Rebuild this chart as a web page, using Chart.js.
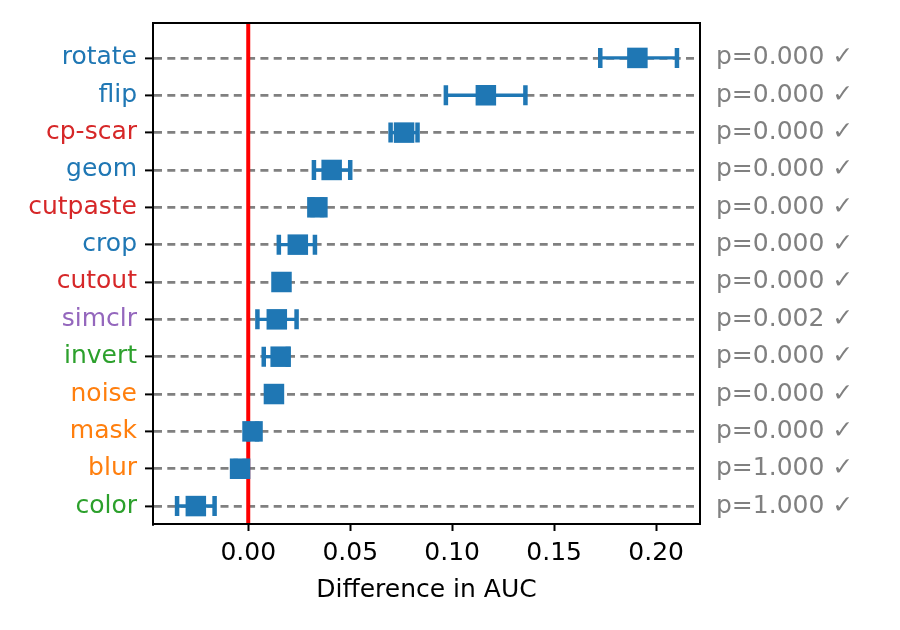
<!DOCTYPE html>
<html>
<head>
<meta charset="utf-8">
<script src="https://cdn.jsdelivr.net/npm/chart.js@4.4.0/dist/chart.umd.min.js"></script>
<style>
  html, body { margin: 0; padding: 0; background: #fff; }
  #wrap { width: 900px; height: 630px; }
</style>
</head>
<body>
<div id="wrap"><canvas id="myChart"></canvas></div>
<script>
// rows listed top to bottom, as in the picture
const augNames = ['rotate', 'flip', 'cp-scar', 'geom', 'cutpaste', 'crop', 'cutout',
  'simclr', 'invert', 'noise', 'mask', 'blur', 'color'];
const nameColors = ['#1f77b4', '#1f77b4', '#d62728', '#1f77b4', '#d62728', '#1f77b4', '#d62728',
  '#9467bd', '#2ca02c', '#ff7f0e', '#ff7f0e', '#ff7f0e', '#2ca02c'];
const aucDiff = [0.1908, 0.1165, 0.0764, 0.0409, 0.0339, 0.0243, 0.0163,
  0.0140, 0.0159, 0.0126, 0.0021, -0.0040, -0.0257];
const errLow = [0.1726, 0.0969, 0.0698, 0.0322, 0.0315, 0.0150, 0.0140,
  0.0045, 0.0076, 0.0104, 0.0000, -0.0062, -0.0349];
const errHigh = [0.2102, 0.1359, 0.0830, 0.0500, 0.0362, 0.0327, 0.0186,
  0.0237, 0.0194, 0.0148, 0.0043, -0.0018, -0.0165];
const pValues = ['0.000', '0.000', '0.000', '0.000', '0.000', '0.000', '0.000',
  '0.002', '0.000', '0.000', '0.000', '1.000', '1.000'];
const xTicks = [0, 0.05, 0.10, 0.15, 0.20];
const refLine = 0;

const n = augNames.length;
const rowY = i => n - 1 - i;
const blue = '#1f77b4';
const fontFam = "'DejaVu Sans', sans-serif";
const fontSize = 25;

const extras = {
  id: 'extras',
  beforeDatasetsDraw(chart) {
    const { ctx, chartArea: a, scales: { x, y } } = chart;
    ctx.save();
    // red zero line
    ctx.strokeStyle = '#ff0000';
    ctx.lineWidth = 4;
    ctx.beginPath();
    ctx.moveTo(x.getPixelForValue(refLine), a.top);
    ctx.lineTo(x.getPixelForValue(refLine), a.bottom);
    ctx.stroke();
    // error bars with caps
    ctx.strokeStyle = blue;
    for (let i = 0; i < n; i++) {
      const py = y.getPixelForValue(rowY(i));
      const x1 = x.getPixelForValue(errLow[i]);
      const x2 = x.getPixelForValue(errHigh[i]);
      ctx.lineWidth = 3.4;
      ctx.beginPath();
      ctx.moveTo(x1, py);
      ctx.lineTo(x2, py);
      ctx.stroke();
      ctx.lineWidth = 4.5;
      ctx.beginPath();
      ctx.moveTo(x1, py - 10);
      ctx.lineTo(x1, py + 10);
      ctx.moveTo(x2, py - 10);
      ctx.lineTo(x2, py + 10);
      ctx.stroke();
    }
    ctx.restore();
  },
  afterDraw(chart) {
    const { ctx, chartArea: a, scales: { y } } = chart;
    ctx.save();
    ctx.strokeStyle = '#000';
    ctx.lineWidth = 2;
    ctx.strokeRect(a.left, a.top, a.right - a.left, a.bottom - a.top);
    // p-values on the right
    ctx.fillStyle = '#808080';
    ctx.font = fontSize + 'px ' + fontFam;
    ctx.textBaseline = 'middle';
    ctx.textAlign = 'left';
    for (let i = 0; i < n; i++) {
      ctx.fillText('p=' + pValues[i] + ' \u2713', a.right + 16, y.getPixelForValue(rowY(i)));
    }
    ctx.restore();
  }
};

const ctx = document.getElementById('myChart').getContext('2d');
const myChart = new Chart(ctx, {
  type: 'scatter',
  data: {
    datasets: [{
      data: aucDiff.map((v, i) => ({ x: v, y: rowY(i) })),
      backgroundColor: blue,
      borderWidth: 0,
      pointStyle: 'rect',
      pointRadius: 14.5,
      pointHoverRadius: 14.5
    }]
  },
  options: {
    responsive: true,
    maintainAspectRatio: false,
    animation: false,
    layout: { padding: { left: 0, top: 22, right: 200, bottom: 22 } },
    plugins: {
      legend: { display: false },
      tooltip: { enabled: false }
    },
    scales: {
      x: {
        type: 'linear',
        min: -0.0467,
        max: 0.2215,
        afterBuildTicks: s => { s.ticks = xTicks.map(v => ({ value: v })); },
        afterFit: s => { s.height = 84; },
        ticks: {
          callback: v => v.toFixed(2),
          color: '#000',
          font: { size: fontSize, family: fontFam },
          padding: 7,
          maxRotation: 0
        },
        grid: {
          drawOnChartArea: false,
          tickLength: 7,
          tickColor: '#000',
          tickWidth: 2
        },
        border: { display: true, color: '#000', width: 2 },
        title: {
          display: true,
          text: 'Difference in AUC',
          color: '#000',
          font: { size: fontSize, family: fontFam },
          padding: { top: 4, bottom: 3 }
        }
      },
      y: {
        type: 'linear',
        min: -0.48,
        max: 12.935,
        afterBuildTicks: s => { s.ticks = augNames.map((_, i) => ({ value: i })); },
        afterFit: s => { s.width = 153; },
        ticks: {
          callback: v => augNames[n - 1 - v],
          color: c => nameColors[n - 1 - c.tick.value],
          font: { size: fontSize, family: fontFam },
          padding: 8
        },
        grid: {
          color: '#808080',
          lineWidth: 2.8,
          tickLength: 8,
          tickColor: '#000',
          tickWidth: 2,
          tickBorderDash: []
        },
        border: { display: true, color: '#000', width: 2, dash: [8, 5.3] }
      }
    }
  },
  plugins: [extras]
});
</script>
</body>
</html>
